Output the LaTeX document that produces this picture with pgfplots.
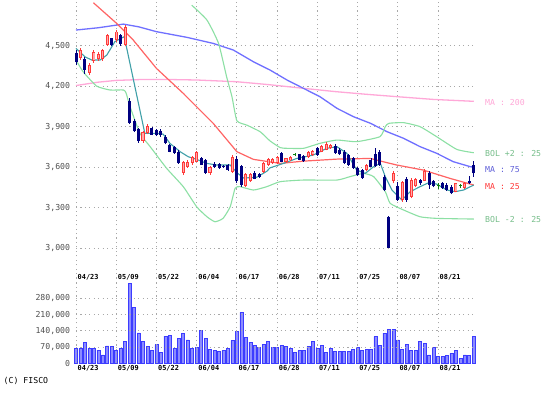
\documentclass[border=0pt]{standalone}
\usepackage{fontspec}
\setmainfont{DejaVu Sans Mono}
\usepackage{pgfplots}
\usepackage{pgfplotstable}
\pgfplotsset{compat=1.18}
\definecolor{cgrid}{HTML}{A8A8A8}
\definecolor{ctick}{HTML}{505050}
\definecolor{cnavy}{HTML}{000080}
\definecolor{cred}{HTML}{FF3A3A}
\definecolor{cpinkfill}{HTML}{FFA8A8}
\definecolor{cdoji}{HTML}{108010}
\definecolor{cma200}{HTML}{FFA8D8}
\definecolor{cma75}{HTML}{7070FF}
\definecolor{cma25}{HTML}{FF6464}
\definecolor{cbol}{HTML}{8CE0A4}
\definecolor{cteal}{HTML}{40A0A8}
\definecolor{cvolf}{HTML}{8C8CFF}
\definecolor{cvold}{HTML}{3C3CFF}
\newcommand{\tickfont}{\fontsize{8.2}{9}\selectfont}
\newcommand{\datefont}{\fontsize{6.9}{8}\selectfont\bfseries}

\pgfplotstableread{
i o h l c
1 4410 4480 4395 4470
3 4300 4370 4285 4360
4 4385 4465 4375 4455
5 4400 4450 4390 4440
6 4400 4475 4390 4465
7 4505 4590 4500 4580
9 4540 4615 4530 4605
11 4505 4655 4495 4640
15 3795 3870 3780 3860
16 3855 3920 3845 3905
24 3560 3645 3545 3640
25 3600 3650 3595 3640
26 3630 3685 3620 3678
27 3640 3720 3635 3712
30 3555 3610 3545 3600
35 3567 3690 3560 3678
38 3460 3560 3450 3550
39 3495 3560 3490 3550
42 3567 3635 3560 3629
43 3616 3665 3610 3658
44 3630 3670 3625 3660
45 3630 3680 3625 3672
47 3640 3670 3630 3665
48 3650 3680 3645 3675
52 3675 3720 3670 3712
53 3690 3730 3685 3720
55 3715 3765 3710 3757
56 3730 3785 3725 3775
57 3740 3775 3735 3765
65 3580 3625 3570 3615
71 3495 3570 3480 3555
73 3360 3500 3345 3490
75 3380 3520 3370 3505
76 3460 3520 3450 3510
78 3500 3590 3495 3570
85 3420 3485 3415 3480
87 3445 3490 3440 3482
}\upc

\pgfplotstableread{
i o h l c
0 4445 4470 4355 4380
2 4405 4415 4290 4320
8 4555 4560 4500 4505
10 4580 4590 4500 4510
12 4090 4110 3920 3930
13 3945 3960 3860 3865
14 3880 3890 3780 3795
17 3888 3900 3835 3840
18 3875 3885 3830 3838
19 3870 3880 3825 3835
20 3826 3835 3770 3778
21 3765 3775 3710 3715
22 3752 3760 3700 3705
23 3715 3725 3625 3630
28 3665 3675 3615 3620
29 3650 3660 3550 3560
31 3625 3640 3595 3600
32 3622 3630 3590 3592
33 3610 3620 3595 3600
34 3617 3625 3575 3580
36 3660 3685 3480 3495
37 3610 3620 3455 3468
40 3560 3570 3510 3515
41 3552 3560 3520 3528
46 3703 3715 3635 3641
50 3695 3700 3650 3655
51 3680 3690 3640 3645
54 3740 3750 3685 3690
58 3760 3775 3700 3705
59 3730 3740 3690 3695
60 3715 3725 3625 3630
61 3690 3700 3610 3620
62 3665 3675 3590 3595
63 3592 3600 3535 3540
64 3580 3590 3515 3520
66 3655 3670 3600 3605
67 3700 3740 3600 3610
68 3715 3730 3610 3615
69 3530 3540 3425 3431
70 3230 3240 3000 3005
72 3460 3490 3350 3360
74 3510 3530 3345 3360
77 3505 3515 3470 3480
79 3555 3570 3440 3465
80 3495 3505 3450 3460
82 3480 3490 3440 3445
83 3470 3480 3425 3430
84 3456 3465 3400 3407
88 3495 3535 3475 3480
89 3615 3645 3530 3555
}\downc

\pgfplotstableread{
i o h l c
49 3690 3705 3680 3697
81 3462 3485 3440 3470
86 3460 3475 3445 3467
}\dojic

\pgfplotstableread{
i v
0 65000
1 65000
2 92000
3 65000
4 65000
5 57000
6 36000
7 75000
8 72000
9 55000
10 65000
11 96000
12 346000
13 240000
14 131000
15 93000
16 72000
17 55000
18 80000
19 46000
20 118000
21 121000
22 65000
23 107000
24 128000
25 101000
26 65000
27 68000
28 141000
29 107000
30 60000
31 55000
32 50000
33 55000
34 65000
35 98000
36 137000
37 220000
38 112000
39 91000
40 77000
41 70000
42 83000
43 96000
44 70000
45 70000
46 76000
47 72000
48 63000
49 46000
50 55000
51 57000
52 72000
53 96000
54 65000
55 76000
56 46000
57 63000
58 50000
59 53000
60 53000
61 53000
62 60000
63 69000
64 55000
65 60000
66 60000
67 115000
68 76000
69 130000
70 147000
71 147000
72 101000
73 60000
74 83000
75 55000
76 55000
77 93000
78 86000
79 36000
80 69000
81 29000
82 29000
83 33000
84 43000
85 57000
86 21000
87 36000
88 33000
89 118000
}\vol

\pgfplotsset{
  cstyle/.style={scale only axis, width=399.1pt, xmin=0, xmax=89.3,
    enlargelimits=false, clip=false,
    axis line style={draw=none}, major tick length=0pt, grid=major,
    major grid style={draw=cgrid, line width=0.9pt, dash pattern=on 1.1pt off 3.35pt},
    xtick={0,9,18,27,36,45,54,63,72,81},
    xticklabels={04/23,05/09,05/22,06/04,06/17,06/28,07/11,07/25,08/07,08/21},
    xticklabel style={anchor=west, font=\datefont, xshift=-1.8pt},
    yticklabel style={font=\tickfont, text=ctick, xshift=-2.4pt},
    scaled y ticks=false},
  wick/.style={draw=none, mark=none, forget plot, error bars/.cd, y dir=plus, y explicit,
    error mark=none, error bar style={draw=#1, line width=0.9pt}},
  body/.style 2 args={draw=none, mark=none, forget plot, error bars/.cd, y dir=plus, y explicit,
    error mark=none, error bar style={draw=#1, line width=#2}},
}

\begin{document}
\begin{tikzpicture}
\useasboundingbox (0,0) rectangle (553pt,392pt);
\fill[white] (0,0) rectangle (553pt,392pt);
\begin{axis}[cstyle, anchor=south west, at={(76pt,109pt)}, height=283pt,
  ymin=2742.3, ymax=4838.5,
  ytick={3000,3300,3600,3900,4200,4500},
  yticklabels={{3,000},{3,300},{3,600},{3,900},{4,200},{4,500}},
  xticklabel style={yshift=6pt}]
% MA 200
\addplot[cma200, line width=1.3pt, mark=none] coordinates {
(0,4205) (5,4230) (9,4243) (15,4250) (20,4250) (27,4246) (36,4233) (43,4212) (51,4184) (58,4160) (65,4140) (72,4122) (80,4102) (89,4088)};
% MA 75
\addplot[cma75, line width=1.3pt, mark=none] coordinates {
(0,4616) (5,4633) (10.6,4660) (14,4640) (18,4604) (24.8,4562) (30.7,4517) (35.2,4468) (39.7,4381) (43.4,4320) (47.2,4246) (50.9,4184) (54.6,4122) (58.4,4036) (62.1,3974) (65.9,3925) (69.6,3863) (73.3,3814) (77,3752) (80.7,3703) (84.4,3641) (88.2,3604) (89,3600)};
% MA 25
\addplot[cma25, line width=1.2pt, mark=none] coordinates {
(3.9,4818) (9.1,4665) (12.8,4542) (18,4332) (24,4147) (30.7,3925) (36,3715) (39.7,3658) (45.7,3628) (50.9,3645) (58.4,3660) (65.9,3665) (68.8,3640) (71.8,3616) (77.7,3579) (83.7,3517) (89,3468)};
% BOL +2
\addplot[cbol, line width=1.1pt, mark=none, smooth, tension=0.3] coordinates {
(25.9,4800) (29.3,4690) (31.9,4517) (33.7,4270) (34.9,4122) (36,3944) (38.2,3912) (41.2,3863) (43.4,3795) (45.7,3745) (47.2,3740) (50.9,3740) (54.6,3777) (58.4,3801) (62.8,3789) (68,3826) (69.2,3900) (70,3925) (73.3,3930) (77,3900) (80.7,3826) (85.2,3732) (89,3707)};
% BOL -2
\addplot[cbol, line width=1.1pt, mark=none, smooth, tension=0.3] coordinates {
(0,4394) (1.6,4307) (4.6,4201) (7.6,4172) (10.6,4172) (11.2,4150) (12.1,4048) (14.3,3851) (16.6,3752) (20.3,3591) (24,3456) (27,3307) (29.3,3233) (31.1,3196) (32.9,3221) (34.5,3307) (35.6,3444) (36.7,3456) (39.7,3431) (42.7,3456) (45.7,3493) (50.9,3505) (58.4,3505) (61.3,3530) (64.3,3554) (66.6,3530) (69.2,3419) (70.3,3332) (73.3,3283) (77,3233) (80.7,3221) (89,3216)};
% short MA (teal)
\addplot[cteal, line width=1.1pt, mark=none] coordinates {
(0,4480) (2,4418) (3.5,4394) (5.4,4394) (6.9,4431) (8.7,4530) (10.8,4567) (15.4,3851) (18,3851) (19.5,3845) (21,3777) (23.3,3715) (25.1,3678) (27,3658) (29.3,3628) (31.5,3616) (34.5,3616) (36,3560) (37.5,3520) (40.4,3525) (42.7,3570) (43.4,3595) (46.4,3628) (49.4,3665) (53.1,3690) (56.1,3740) (58.4,3752) (60.6,3703) (62.8,3579) (64.7,3554) (66.6,3604) (68.1,3628) (69.2,3530) (70.7,3431) (72.9,3357) (74.8,3419) (77,3456) (78.9,3485) (80.7,3475) (83,3431) (84.9,3419) (86.7,3431) (89,3468)};
% candles: down (navy)
\addplot[wick=cnavy] table[x=i, y=l, y error plus expr=\thisrow{h}-\thisrow{l}] {\downc};
\addplot[body={cnavy}{3pt}] table[x=i, y=c, y error plus expr=\thisrow{o}-\thisrow{c}] {\downc};
% candles: up (red)
\addplot[wick=cred] table[x=i, y=l, y error plus expr=\thisrow{h}-\thisrow{l}] {\upc};
\addplot[body={cred}{3.2pt}] table[x=i, y=o, y error plus expr=\thisrow{c}-\thisrow{o}] {\upc};
\addplot[body={cpinkfill}{1.3pt}] table[x=i, y expr=\thisrow{o}+7, y error plus expr=\thisrow{c}-\thisrow{o}-14] {\upc};
% doji (green)
\addplot[wick=cdoji] table[x=i, y=l, y error plus expr=\thisrow{h}-\thisrow{l}] {\dojic};
\addplot[body={cdoji}{3pt}] table[x=i, y=o, y error plus expr=\thisrow{c}-\thisrow{o}] {\dojic};
\end{axis}

\begin{axis}[cstyle, anchor=south west, at={(76pt,28.7pt)}, height=80.3pt,
  ymin=0, ymax=347000,
  ytick={70000,140000,210000,280000},
  yticklabels={{70,000},{140,000},{210,000},{280,000}},
  extra y ticks={0}, extra y tick labels={0}, extra y tick style={grid=none},
  xticklabel style={yshift=-5pt}, axis on top]
\addplot[ybar, bar width=3pt, fill=cvolf, draw=cvold, line width=0.6pt] table[x=i, y=v] {\vol};
\end{axis}

\begin{scope}[every node/.style={anchor=west, inner sep=0pt, font=\tickfont}]
\node[text=cma200] at (485pt,289pt) {MA : 200};
\node[text=cbol!85!black] at (485pt,238pt) {BOL +2 : 25};
\node[text=cma75!85!black] at (485pt,222pt) {MA : 75};
\node[text=cred] at (485pt,205.3pt) {MA : 25};
\node[text=cbol!85!black] at (485pt,172pt) {BOL -2 : 25};
\node[text=black] at (3.5pt,11pt) {(C) FISCO};
\end{scope}
\end{tikzpicture}
\end{document}
